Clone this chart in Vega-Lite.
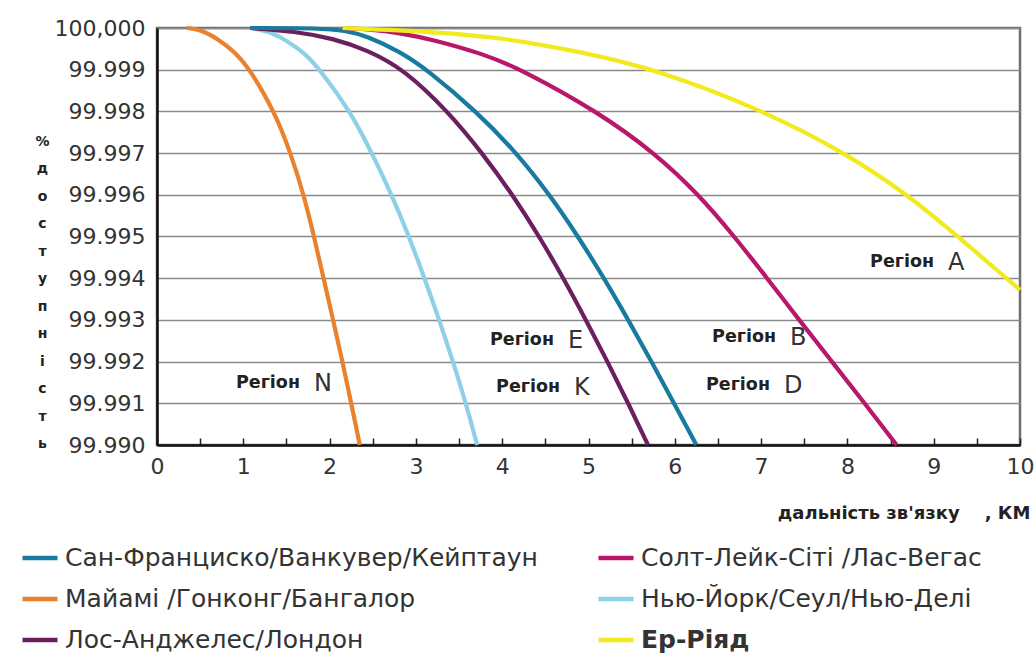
{
  "$schema": "https://vega.github.io/schema/vega-lite/v6.json",
  "width": 863,
  "height": 417,
  "autosize": "none",
  "padding": {"left": 157, "top": 28, "right": 16, "bottom": 214},
  "background": "white",
  "config": {
    "view": {"stroke": "#6e6e6e", "strokeWidth": 2.5},
    "font": "DejaVu Sans"
  },
  "datasets": {
    "curves": [
      {"city": "Майамі  /Гонконг/Бангалор", "km": 0.35, "pct": 100},
      {"city": "Майамі  /Гонконг/Бангалор", "km": 0.5, "pct": 99.99996},
      {"city": "Майамі  /Гонконг/Бангалор", "km": 0.7, "pct": 99.99975},
      {"city": "Майамі  /Гонконг/Бангалор", "km": 0.9, "pct": 99.99943},
      {"city": "Майамі  /Гонконг/Бангалор", "km": 1.08, "pct": 99.999},
      {"city": "Майамі  /Гонконг/Бангалор", "km": 1.36, "pct": 99.998},
      {"city": "Майамі  /Гонконг/Бангалор", "km": 1.55, "pct": 99.997},
      {"city": "Майамі  /Гонконг/Бангалор", "km": 1.70, "pct": 99.996},
      {"city": "Майамі  /Гонконг/Бангалор", "km": 1.82, "pct": 99.995},
      {"city": "Майамі  /Гонконг/Бангалор", "km": 1.93, "pct": 99.994},
      {"city": "Майамі  /Гонконг/Бангалор", "km": 2.04, "pct": 99.993},
      {"city": "Майамі  /Гонконг/Бангалор", "km": 2.15, "pct": 99.992},
      {"city": "Майамі  /Гонконг/Бангалор", "km": 2.25, "pct": 99.991},
      {"city": "Майамі  /Гонконг/Бангалор", "km": 2.35, "pct": 99.990},

      {"city": "Нью-Йорк/Сеул/Нью-Делі", "km": 1.08, "pct": 100},
      {"city": "Нью-Йорк/Сеул/Нью-Делі", "km": 1.3, "pct": 99.99992},
      {"city": "Нью-Йорк/Сеул/Нью-Делі", "km": 1.5, "pct": 99.9997},
      {"city": "Нью-Йорк/Сеул/Нью-Делі", "km": 1.7, "pct": 99.99942},
      {"city": "Нью-Йорк/Сеул/Нью-Делі", "km": 1.89, "pct": 99.999},
      {"city": "Нью-Йорк/Сеул/Нью-Делі", "km": 2.24, "pct": 99.998},
      {"city": "Нью-Йорк/Сеул/Нью-Делі", "km": 2.49, "pct": 99.997},
      {"city": "Нью-Йорк/Сеул/Нью-Делі", "km": 2.72, "pct": 99.996},
      {"city": "Нью-Йорк/Сеул/Нью-Делі", "km": 2.92, "pct": 99.995},
      {"city": "Нью-Йорк/Сеул/Нью-Делі", "km": 3.10, "pct": 99.994},
      {"city": "Нью-Йорк/Сеул/Нью-Делі", "km": 3.27, "pct": 99.993},
      {"city": "Нью-Йорк/Сеул/Нью-Делі", "km": 3.43, "pct": 99.992},
      {"city": "Нью-Йорк/Сеул/Нью-Делі", "km": 3.58, "pct": 99.991},
      {"city": "Нью-Йорк/Сеул/Нью-Делі", "km": 3.71, "pct": 99.990},

      {"city": "Лос-Анджелес/Лондон", "km": 1.08, "pct": 100},
      {"city": "Лос-Анджелес/Лондон", "km": 1.6, "pct": 99.99992},
      {"city": "Лос-Анджелес/Лондон", "km": 2.04, "pct": 99.99975},
      {"city": "Лос-Анджелес/Лондон", "km": 2.43, "pct": 99.99948},
      {"city": "Лос-Анджелес/Лондон", "km": 2.87, "pct": 99.999},
      {"city": "Лос-Анджелес/Лондон", "km": 3.37, "pct": 99.998},
      {"city": "Лос-Анджелес/Лондон", "km": 3.77, "pct": 99.997},
      {"city": "Лос-Анджелес/Лондон", "km": 4.12, "pct": 99.996},
      {"city": "Лос-Анджелес/Лондон", "km": 4.43, "pct": 99.995},
      {"city": "Лос-Анджелес/Лондон", "km": 4.71, "pct": 99.994},
      {"city": "Лос-Анджелес/Лондон", "km": 4.97, "pct": 99.993},
      {"city": "Лос-Анджелес/Лондон", "km": 5.22, "pct": 99.992},
      {"city": "Лос-Анджелес/Лондон", "km": 5.46, "pct": 99.991},
      {"city": "Лос-Анджелес/Лондон", "km": 5.69, "pct": 99.990},

      {"city": "Сан-Франциско/Ванкувер/Кейптаун", "km": 1.08, "pct": 100},
      {"city": "Сан-Франциско/Ванкувер/Кейптаун", "km": 1.88, "pct": 100},
      {"city": "Сан-Франциско/Ванкувер/Кейптаун", "km": 2.2, "pct": 99.99993},
      {"city": "Сан-Франциско/Ванкувер/Кейптаун", "km": 2.43, "pct": 99.99981},
      {"city": "Сан-Франциско/Ванкувер/Кейптаун", "km": 2.82, "pct": 99.99943},
      {"city": "Сан-Франциско/Ванкувер/Кейптаун", "km": 3.13, "pct": 99.999},
      {"city": "Сан-Франциско/Ванкувер/Кейптаун", "km": 3.70, "pct": 99.998},
      {"city": "Сан-Франциско/Ванкувер/Кейптаун", "km": 4.17, "pct": 99.997},
      {"city": "Сан-Франциско/Ванкувер/Кейптаун", "km": 4.55, "pct": 99.996},
      {"city": "Сан-Франциско/Ванкувер/Кейптаун", "km": 4.88, "pct": 99.995},
      {"city": "Сан-Франциско/Ванкувер/Кейптаун", "km": 5.18, "pct": 99.994},
      {"city": "Сан-Франциско/Ванкувер/Кейптаун", "km": 5.46, "pct": 99.993},
      {"city": "Сан-Франциско/Ванкувер/Кейптаун", "km": 5.73, "pct": 99.992},
      {"city": "Сан-Франциско/Ванкувер/Кейптаун", "km": 5.99, "pct": 99.991},
      {"city": "Сан-Франциско/Ванкувер/Кейптаун", "km": 6.25, "pct": 99.990},

      {"city": "Солт-Лейк-Сіті   /Лас-Вегас", "km": 2.15, "pct": 100},
      {"city": "Солт-Лейк-Сіті   /Лас-Вегас", "km": 2.5, "pct": 99.99996},
      {"city": "Солт-Лейк-Сіті   /Лас-Вегас", "km": 2.82, "pct": 99.99988},
      {"city": "Солт-Лейк-Сіті   /Лас-Вегас", "km": 3.2, "pct": 99.99972},
      {"city": "Солт-Лейк-Сіті   /Лас-Вегас", "km": 3.78, "pct": 99.99938},
      {"city": "Солт-Лейк-Сіті   /Лас-Вегас", "km": 4.23, "pct": 99.999},
      {"city": "Солт-Лейк-Сіті   /Лас-Вегас", "km": 5.10, "pct": 99.998},
      {"city": "Солт-Лейк-Сіті   /Лас-Вегас", "km": 5.77, "pct": 99.997},
      {"city": "Солт-Лейк-Сіті   /Лас-Вегас", "km": 6.28, "pct": 99.996},
      {"city": "Солт-Лейк-Сіті   /Лас-Вегас", "km": 6.69, "pct": 99.995},
      {"city": "Солт-Лейк-Сіті   /Лас-Вегас", "km": 7.07, "pct": 99.994},
      {"city": "Солт-Лейк-Сіті   /Лас-Вегас", "km": 7.44, "pct": 99.993},
      {"city": "Солт-Лейк-Сіті   /Лас-Вегас", "km": 7.82, "pct": 99.992},
      {"city": "Солт-Лейк-Сіті   /Лас-Вегас", "km": 8.20, "pct": 99.991},
      {"city": "Солт-Лейк-Сіті   /Лас-Вегас", "km": 8.57, "pct": 99.990},

      {"city": "Ер-Ріяд", "km": 2.15, "pct": 100},
      {"city": "Ер-Ріяд", "km": 3.2, "pct": 99.99991},
      {"city": "Ер-Ріяд", "km": 3.97, "pct": 99.99978},
      {"city": "Ер-Ріяд", "km": 4.94, "pct": 99.99942},
      {"city": "Ер-Ріяд", "km": 5.8, "pct": 99.999},
      {"city": "Ер-Ріяд", "km": 7.05, "pct": 99.998},
      {"city": "Ер-Ріяд", "km": 7.98, "pct": 99.997},
      {"city": "Ер-Ріяд", "km": 8.70, "pct": 99.996},
      {"city": "Ер-Ріяд", "km": 9.28, "pct": 99.995},
      {"city": "Ер-Ріяд", "km": 10, "pct": 99.99372}
    ],
    "regions": [
      {"letter": "N", "km": 1.738, "pct": 99.99148},
      {"letter": "E", "km": 4.681, "pct": 99.99251},
      {"letter": "K", "km": 4.751, "pct": 99.99138},
      {"letter": "B", "km": 7.254, "pct": 99.99258},
      {"letter": "D", "km": 7.184, "pct": 99.99143},
      {"letter": "A", "km": 9.085, "pct": 99.99438}
    ]
  },
  "layer": [
    {
      "mark": {"type": "rule", "color": "#000000", "strokeWidth": 4.5},
      "encoding": {
        "y": {"datum": 99.995, "type": "quantitative", "scale": {"domain": [99.99, 100], "nice": false, "zero": false}}
      }
    },
    {
      "data": {"name": "curves"},
      "mark": {"type": "line", "interpolate": "basis", "strokeWidth": 4.2, "strokeCap": "butt"},
      "encoding": {
        "x": {
          "field": "km", "type": "quantitative",
          "scale": {"domain": [0, 10], "nice": false, "zero": false},
          "axis": {
            "values": [0, 0.25, 0.5, 0.75, 1, 1.25, 1.5, 1.75, 2, 2.25, 2.5, 2.75, 3, 3.25, 3.5, 3.75, 4, 4.25, 4.5, 4.75, 5, 5.25, 5.5, 5.75, 6, 6.25, 6.5, 6.75, 7, 7.25, 7.5, 7.75, 8, 8.25, 8.5, 8.75, 9, 9.25, 9.5, 9.75, 10],
            "labelExpr": "datum.value % 1 === 0 ? format(datum.value, 'd') : ''",
            "grid": false,
            "tickSize": -7,
            "tickWidth": 1.5,
            "tickColor": "#222222",
            "domainColor": "#111111",
            "domainWidth": 2.5,
            "labelFont": "DejaVu Sans",
            "labelFontSize": 22,
            "labelColor": "#333333",
            "labelPadding": 18,
            "labelFlush": false,
            "labelOverlap": false,
            "title": "дальність зв'язку\u00a0\u00a0\u00a0\u00a0, КМ",
            "titleFont": "DejaVu Sans",
            "titleFontWeight": "bold",
            "titleFontSize": 18,
            "titleColor": "#222222",
            "titleAnchor": "end",
            "titleAlign": "right",
            "titleBaseline": "middle",
            "titleX": 873,
            "titleY": 68
          }
        },
        "y": {
          "field": "pct", "type": "quantitative",
          "scale": {"domain": [99.99, 100], "nice": false, "zero": false},
          "axis": {
            "values": [99.99, 99.991, 99.992, 99.993, 99.994, 99.995, 99.996, 99.997, 99.998, 99.999, 100],
            "labelExpr": "datum.value >= 99.9999 ? '100,000' : format(datum.value, '.3f')",
            "ticks": false,
            "grid": true,
            "gridColor": "#8a8a8a",
            "gridWidth": 1.6,
            "domainColor": "#111111",
            "domainWidth": 2.5,
            "labelFont": "DejaVu Sans",
            "labelFontSize": 22,
            "labelColor": "#333333",
            "labelPadding": 12,
            "labelOverlap": false,
            "title": ["%", "д", "о", "с", "т", "у", "п", "н", "і", "с", "т", "ь"],
            "titleAngle": 0,
            "titleFont": "DejaVu Sans",
            "titleFontWeight": "bold",
            "titleFontSize": 14,
            "titleColor": "#222222",
            "titleLineHeight": 27.5,
            "titleAlign": "center",
            "titleBaseline": "middle",
            "titleX": -115,
            "titleY": 113
          }
        },
        "color": {
          "field": "city", "type": "nominal",
          "scale": {
            "domain": ["Сан-Франциско/Ванкувер/Кейптаун", "Майамі  /Гонконг/Бангалор", "Лос-Анджелес/Лондон", "Солт-Лейк-Сіті   /Лас-Вегас", "Нью-Йорк/Сеул/Нью-Делі", "Ер-Ріяд"],
            "range": ["#177a9e", "#e9822f", "#6b1f5f", "#b8176b", "#8ed0e8", "#f1ea1e"]
          },
          "legend": {
            "orient": "none",
            "legendX": -137,
            "legendY": 510,
            "columns": 2,
            "columnPadding": 51,
            "rowPadding": 8,
            "title": null,
            "symbolType": "stroke",
            "symbolStrokeWidth": 4.5,
            "symbolSize": 1225,
            "labelFont": "DejaVu Sans",
            "labelFontSize": 25,
            "labelColor": "#333333",
            "labelLimit": 800,
            "labelOffset": 5,
            "labelFontWeight": {"expr": "datum.label == 'Ер-Ріяд' ? 'bold' : 'normal'"}
          }
        }
      }
    },
    {
      "data": {"name": "regions"},
      "mark": {"type": "text", "align": "right", "baseline": "middle", "dx": -7, "font": "DejaVu Sans", "fontWeight": "bold", "fontSize": 17.5, "color": "#222222", "text": "Регіон"},
      "encoding": {
        "x": {"field": "km", "type": "quantitative"},
        "y": {"field": "pct", "type": "quantitative"}
      }
    },
    {
      "data": {"name": "regions"},
      "mark": {"type": "text", "align": "left", "baseline": "middle", "dx": 7, "dy": 1, "font": "DejaVu Sans", "fontWeight": "normal", "fontSize": 24, "color": "#333333"},
      "encoding": {
        "x": {"field": "km", "type": "quantitative"},
        "y": {"field": "pct", "type": "quantitative"},
        "text": {"field": "letter", "type": "nominal"}
      }
    }
  ]
}
